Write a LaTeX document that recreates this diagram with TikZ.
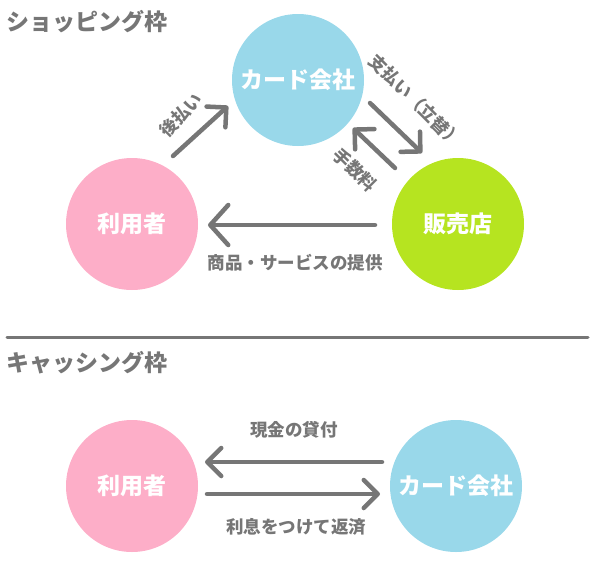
\documentclass[tikz,border=0pt]{standalone}
\usepackage{fontspec}
\setmainfont{Noto Sans CJK JP}
\usetikzlibrary{arrows.meta,calc}
\definecolor{cblue}{RGB}{153,216,234}
\definecolor{cpink}{RGB}{253,174,200}
\definecolor{cgreen}{RGB}{182,228,32}
\definecolor{cgray}{RGB}{118,118,118}
\begin{document}
\begin{tikzpicture}[x=1pt,y=-1pt,
  party/.style={circle,minimum size=132pt,inner sep=0pt,text=white,font=\bfseries\fontsize{23}{23}\selectfont},
  lbl/.style={text=cgray,font=\bfseries\fontsize{17.5}{17.5}\selectfont,inner sep=0pt},
  ttl/.style={text=cgray,font=\bfseries\fontsize{23}{23}\selectfont,inner sep=0pt,anchor=west},
  flow/.style={draw=cgray,line width=4.5pt,line cap=round,-{Straight Barb[length=14pt,width=28pt,round]}},
  flowbig/.style={draw=cgray,line width=4.5pt,line cap=round,-{Straight Barb[length=18pt,width=40pt,round]}},
  rule/.style={draw=cgray,line width=3pt,line cap=round}
]
\useasboundingbox (0,0) rectangle (600,579);
% titles
\node[ttl] (t1) at (6,22) {ショッピング枠};
\node[ttl] (t2) at (6,363) {キャッシング枠};
% separator
\coordinate (sepL) at (7,337);
\coordinate (sepR) at (588,337);
\draw[rule] (sepL) -- (sepR);
% shopping
\node[party,fill=cblue] (card1) at (298,80) {カード会社};
\node[party,fill=cpink] (user1) at (132,224) {利用者};
\node[party,fill=cgreen] (shop1) at (458,224) {販売店};
\draw[flow] ($(user1)+(41,-68)$) -- ($(card1)+(-70,26)$);
\draw[flow] ($(card1)+(72,23)$) -- ($(shop1)+(-36,-71)$);
\draw[flow] ($(shop1)+(-63,-56)$) -- ($(card1)+(55,48)$);
\draw[flowbig] ($(shop1)+(-83,1)$) -- ($(user1)+(76,1)$);
\node[lbl,rotate=45] (l1) at (181,115) {後払い};
\node[lbl,rotate=-45] (l2) at (416,101) {支払い（立替）};
\node[lbl,rotate=-45] (l3) at (355,170) {手数料};
\node[lbl] (l4) at (295,263) {商品・サービスの提供};
% cashing
\node[party,fill=cpink] (user2) at (132,486) {利用者};
\node[party,fill=cblue] (card2) at (456,486) {カード会社};
\draw[flow] ($(card2)+(-74,-24)$) -- ($(user2)+(73,-24)$);
\draw[flow] ($(user2)+(75,8)$) -- ($(card2)+(-76,8)$);
\node[lbl] (l5) at (294,430) {現金の貸付};
\node[lbl] (l6) at (296,527) {利息をつけて返済};
\end{tikzpicture}
\end{document}
